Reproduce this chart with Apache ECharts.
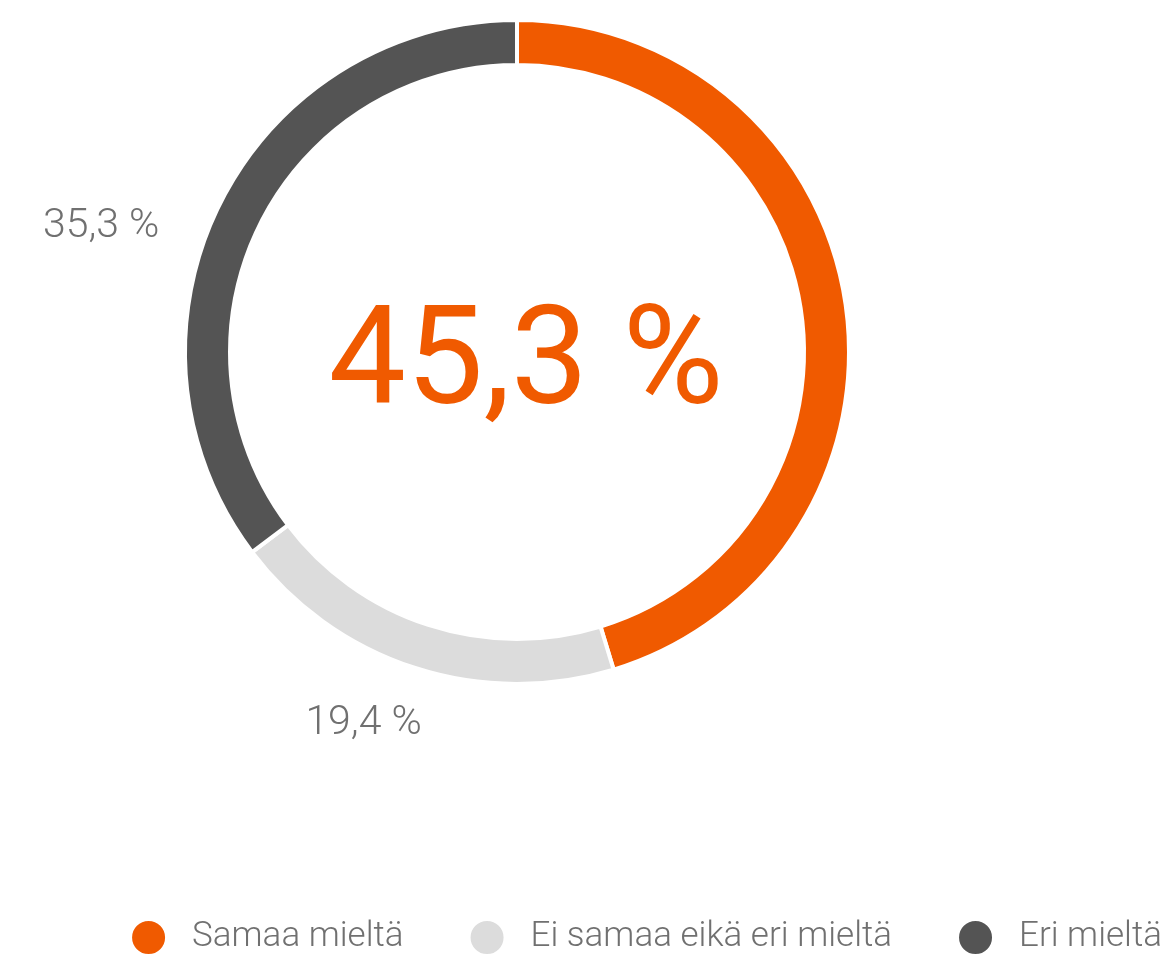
<!DOCTYPE html>
<html><head><meta charset="utf-8">
<script src="https://cdn.jsdelivr.net/npm/echarts@6/dist/echarts.min.js"></script>
<style>html,body{margin:0;padding:0;background:#fff}#c{width:1169px;height:955px}</style>
</head><body><div id="c"></div>
<script>
const categories = ['Samaa mieltä', 'Ei samaa eikä eri mieltä', 'Eri mieltä'];
const values = [45.3, 19.4, 35.3];
const colors = ['#F05A00', '#DCDCDC', '#545454'];
const fmt = v => v.toFixed(1).replace('.', ',') + ' %';
const FONT = 'Roboto';
const labelShift = [[9, 16], [47, 42], [-12, 29]];
const chart = echarts.init(document.getElementById('c'));
chart.setOption({
  animation: false,
  legend: {
    top: 914, right: 2,
    icon: 'circle', itemWidth: 35, itemHeight: 35, itemGap: 65,
    textStyle: { color: '#707070', fontSize: 35, fontFamily: FONT, fontWeight: 300, padding: [0,0,0,21] },
    data: categories
  },
  series: [{
    type: 'pie',
    center: [517, 352],
    radius: [287, 332],
    startAngle: 90,
    clockwise: true,
    silent: true,
    itemStyle: { borderColor: '#fff', borderWidth: 4 },
    labelLine: { show: false },
    label: {
      position: 'outside',
      color: '#707070', fontSize: 41, fontFamily: FONT, fontWeight: 300,
      formatter: p => fmt(p.value)
    },
    labelLayout: p => ({ dx: labelShift[p.dataIndex][0], dy: labelShift[p.dataIndex][1] }),
    data: categories.map((n, i) => ({
      name: n, value: values[i], itemStyle: { color: colors[i] },
      label: i === 0 ? { position: 'center', color: colors[0], fontSize: 138, fontFamily: FONT, fontWeight: 'normal' } : {}
    }))
  }]
});
</script></body></html>
